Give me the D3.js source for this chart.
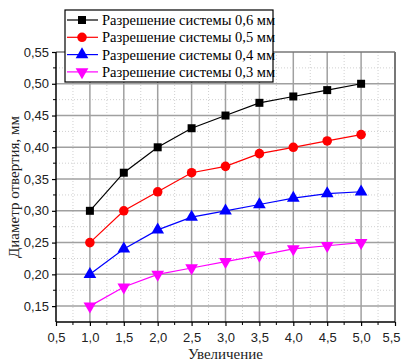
<!DOCTYPE html>
<html><head><meta charset="utf-8">
<script src="https://cdn.jsdelivr.net/npm/d3@7"></script>
<style>body{margin:0;background:#fff}svg{display:block}</style>
</head><body><svg id="c" width="403" height="362"></svg>
<script>
const xValues = [1.0, 1.5, 2.0, 2.5, 3.0, 3.5, 4.0, 4.5, 5.0];
const s06 = [0.30, 0.36, 0.40, 0.43, 0.45, 0.47, 0.48, 0.49, 0.50];
const s05 = [0.25, 0.30, 0.33, 0.36, 0.37, 0.39, 0.40, 0.41, 0.42];
const s04 = [0.20, 0.24, 0.27, 0.29, 0.30, 0.31, 0.32, 0.327, 0.33];
const s03 = [0.15, 0.18, 0.20, 0.21, 0.22, 0.23, 0.24, 0.245, 0.25];
const seriesNames = ["Разрешение системы 0,6 мм","Разрешение системы 0,5 мм","Разрешение системы 0,4 мм","Разрешение системы 0,3 мм"];
const xTicks = [0.5,1.0,1.5,2.0,2.5,3.0,3.5,4.0,4.5,5.0,5.5];
const yTicks = [0.15,0.20,0.25,0.30,0.35,0.40,0.45,0.50,0.55];
const xTitle = "Увеличение";
const yTitle = "Диаметр отвертия, мм";

const colors = ["#000000","#ff0000","#0000ff","#ff00ff"];
const shapes = [d3.symbolSquare, d3.symbolCircle, d3.symbolTriangle, "down"];
const sizes = [64, 72, 70, 70];
const all = [s06, s05, s04, s03];

const svg = d3.select("#c");
const L=56, R=395, T=52, B=322;
const x = d3.scaleLinear().domain([0.5,5.5]).range([L,R]);
const y = d3.scaleLinear().domain([0.125,0.55]).range([B,T]);

// minor grid
const xMinor = d3.range(0,10).map(i=>0.75+i*0.5).filter(v=>v<5.5);
const yMinor = [0.175,0.225,0.275,0.325,0.375,0.425,0.475,0.525];
const g = svg.append("g");
g.selectAll(".xm").data(xMinor).join("line").attr("x1",d=>x(d)).attr("x2",d=>x(d)).attr("y1",T).attr("y2",B)
 .attr("stroke","#d0d0d0").attr("stroke-width",1).attr("stroke-dasharray","1,2");
g.selectAll(".ym").data(yMinor).join("line").attr("y1",d=>y(d)).attr("y2",d=>y(d)).attr("x1",L).attr("x2",R)
 .attr("stroke","#d0d0d0").attr("stroke-width",1).attr("stroke-dasharray","1,2");
// major grid
g.selectAll(".xM").data(xTicks.slice(1,-1)).join("line").attr("x1",d=>x(d)).attr("x2",d=>x(d)).attr("y1",T).attr("y2",B)
 .attr("stroke","#a0a0a0").attr("stroke-width",1.5);
g.selectAll(".yM").data(yTicks.slice(0,-1)).join("line").attr("y1",d=>y(d)).attr("y2",d=>y(d)).attr("x1",L).attr("x2",R)
 .attr("stroke","#a0a0a0").attr("stroke-width",1.5);

// frame top/right
svg.append("line").attr("x1",L).attr("x2",R).attr("y1",T).attr("y2",T).attr("stroke","#777").attr("stroke-width",1.5);
svg.append("line").attr("x1",R).attr("x2",R).attr("y1",T).attr("y2",B).attr("stroke","#777").attr("stroke-width",2);

// axes
const xAxis = svg.append("g").attr("transform",`translate(0,${B})`)
 .call(d3.axisBottom(x).tickValues(xTicks).tickFormat(d=>d.toFixed(1).replace(".",",")).tickSize(4).tickPadding(7));
const yAxis = svg.append("g").attr("transform",`translate(${L},0)`)
 .call(d3.axisLeft(y).tickValues(yTicks).tickFormat(d=>d.toFixed(2).replace(".",",")).tickSize(4).tickPadding(3));
[xAxis,yAxis].forEach(a=>{
  a.select(".domain").attr("stroke","#000").attr("stroke-width",1.5);
  a.selectAll(".tick line").attr("stroke","#000").attr("stroke-width",1.2);
  a.selectAll("text").attr("font-family","'Liberation Sans', Arial, sans-serif").attr("font-size",13).attr("fill","#222");
});
xAxis.selectAll(".tick text").filter(d=>d===5.5).attr("dx",-4);
yAxis.select(".domain").attr("d",`M-0,${B}V${T}`);
xAxis.select(".domain").attr("d",`M${L},0H${R}`);
// minor ticks
svg.append("g").selectAll("line").data(xMinor).join("line").attr("x1",d=>x(d)).attr("x2",d=>x(d)).attr("y1",B).attr("y2",B+3).attr("stroke","#000");
svg.append("g").selectAll("line").data(yMinor).join("line").attr("y1",d=>y(d)).attr("y2",d=>y(d)).attr("x1",L).attr("x2",L-3).attr("stroke","#000");

// series
const line = d3.line().x((d,i)=>x(xValues[i])).y(d=>y(d));
function sym(k){
  if(shapes[k]==="down") return d3.symbol().type(d3.symbolTriangle).size(sizes[k])();
  return d3.symbol().type(shapes[k]).size(sizes[k])();
}
all.forEach((s,k)=>{
  svg.append("path").datum(s).attr("d",line).attr("fill","none").attr("stroke",colors[k]).attr("stroke-width",1.2);
  svg.append("g").selectAll("path").data(s).join("path")
   .attr("d",sym(k)).attr("fill",colors[k])
   .attr("transform",(d,i)=>`translate(${x(xValues[i])},${y(d)})${shapes[k]==="down"?" rotate(180)":""}`);
});

// legend
const lg = svg.append("g");
lg.append("rect").attr("x",65).attr("y",10).attr("width",208).attr("height",72).attr("fill","#fff").attr("stroke","#000").attr("stroke-width",1.2);
seriesNames.forEach((n,k)=>{
  const yy = 20 + k*17.3;
  lg.append("line").attr("x1",67).attr("x2",98).attr("y1",yy).attr("y2",yy).attr("stroke",colors[k]).attr("stroke-width",1.2);
  lg.append("path").attr("d",sym(k)).attr("fill",colors[k]).attr("transform",`translate(82,${yy})${shapes[k]==="down"?" rotate(180)":""}`);
  lg.append("text").attr("x",102).attr("y",yy+5).text(n).attr("font-family","'Liberation Serif','Times New Roman',serif").attr("font-size",14.5).attr("fill","#000");
});

// titles
svg.append("text").attr("x",(L+R)/2).attr("y",359).attr("text-anchor","middle").text(xTitle)
 .attr("font-family","'Liberation Serif','Times New Roman',serif").attr("font-size",15).attr("fill","#222");
svg.append("text").attr("transform",`translate(19,${(T+B)/2}) rotate(-90)`).attr("text-anchor","middle").text(yTitle)
 .attr("font-family","'Liberation Serif','Times New Roman',serif").attr("font-size",15).attr("fill","#222");
</script></body></html>
